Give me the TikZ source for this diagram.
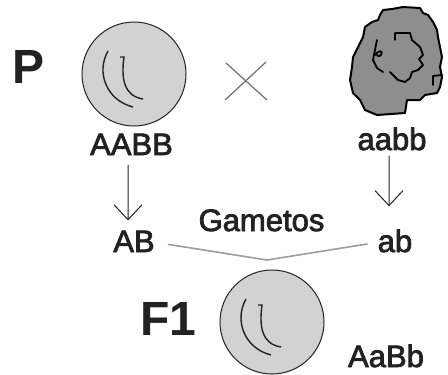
\documentclass[tikz,border=0pt]{standalone}
\usepackage{fontspec}
\setmainfont{Liberation Sans}
\newfontfamily\labelfont[FakeBold=2.5]{Liberation Sans}
\usetikzlibrary{arrows.meta}
\definecolor{ink}{HTML}{222222}
\definecolor{cellfill}{HTML}{D2D2D2}
\definecolor{cloudfill}{HTML}{8E8E8E}
\definecolor{linegray}{HTML}{9C9C9C}
\definecolor{crossgray}{HTML}{6E6E6E}
\tikzset{
  lbl/.style={inner sep=0pt, anchor=base, text=ink, font=\labelfont\fontsize{31bp}{36bp}\selectfont},
  big/.style={inner sep=0pt, anchor=base, text=ink, font=\fontsize{48bp}{56bp}\selectfont\bfseries},
  cellbody/.style={fill=cellfill, draw=ink, line width=1bp},
  fold/.style={draw=ink, line width=1.4bp},
  descent/.style={draw=ink, line width=1bp, -{Straight Barb[length=15bp,width=28bp]}},
  pairing/.style={draw=linegray, line width=1.6bp},
  cross/.style={draw=crossgray, line width=1.2bp},
  lumpy/.style={fill=cloudfill, draw=black, line width=2bp, line join=round},
  scribble/.style={draw=black, line width=1.8bp, line join=round, line cap=round},
  % round cell with two folds inside
  cell/.pic={
    \path[cellbody] (0,0) circle [radius=52];
    \draw[fold] (-26,-23) .. controls (-38,-2) and (-28,26) .. (-1,33);
    \draw[fold] (-14,-17) -- (-10,-17) .. controls (-13,5) and (-10,22) .. (9,25);
  }
}
\begin{document}
\begin{tikzpicture}[x=1bp,y=-1bp]
  \useasboundingbox (0,0) rectangle (448,374);

  % parental generation
  \node[big] (gP) at (28.5,83) {P};
  \pic at (134,74) {cell};
  \node[lbl] (gAABB) at (131.5,155) {AABB};

  \draw[cross] (226,63) -- (267,100);
  \draw[cross] (266,62) -- (225,100);

  % wrinkled partner
  \path[lumpy] (380,15) -- (383,10) -- (392,9) -- (403,7) -- (420,8) -- (423,13)
    -- (428,15) -- (433,22) -- (437,30) -- (438,37) -- (440,47) -- (442,57)
    -- (440,67) -- (442,77) -- (440,87) -- (437,93) -- (425,95) -- (420,100)
    -- (407,100) -- (405,113) -- (377,115) -- (365,110) -- (360,100) -- (353,93)
    -- (350,80) -- (352,67) -- (353,57) -- (358,47) -- (363,37) -- (365,27)
    -- (372,22) -- (378,20) -- cycle;
  \draw[scribble] (395,40) -- (395,33) -- (410,33) -- (412,40) -- (420,47)
    -- (423,55) -- (419,59) -- (423,65) -- (418,70) -- (412,72) -- (410,78)
    -- (405,82) -- (398,80) -- (393,75) -- (390,72);
  \draw[scribble] (383,72) -- (377,68) -- (373,60) -- (375,50) -- (377,40);
  \draw[scribble] (375,55) .. controls (378,50) and (384,50) .. (381,55)
    .. controls (379,57) and (376,56) .. (377,53);
  \draw[scribble] (442,75) -- (433,76) -- (433,85);
  \node[lbl] (gaabb) at (392,150) {aabb};

  % gametes
  \node[lbl] (gAB) at (134,252) {AB};
  \node[lbl] (gab) at (395,252) {ab};
  \node[lbl] (gGam) at (261.5,231) {Gametos};
  \draw[descent] ([xshift=-3.5bp,yshift=-10bp]gAABB.south) -- ([xshift=-6bp,yshift=10bp]gAB.north);
  \draw[descent] ([xshift=-3bp,yshift=-5bp]gaabb.south) -- ([xshift=-6bp,yshift=23bp]gab.north);
  \coordinate (meet) at (267,260);
  \draw[pairing] ([xshift=13bp,yshift=-3bp]gAB.east) -- (meet) -- ([xshift=-10bp,yshift=-3bp]gab.west);

  % first filial generation
  \node[big] (gF1) at (168.5,335) {F1};
  \pic at (272,322) {cell};
  \node[lbl] (gAaBb) at (386,367) {AaBb};
\end{tikzpicture}
\end{document}
